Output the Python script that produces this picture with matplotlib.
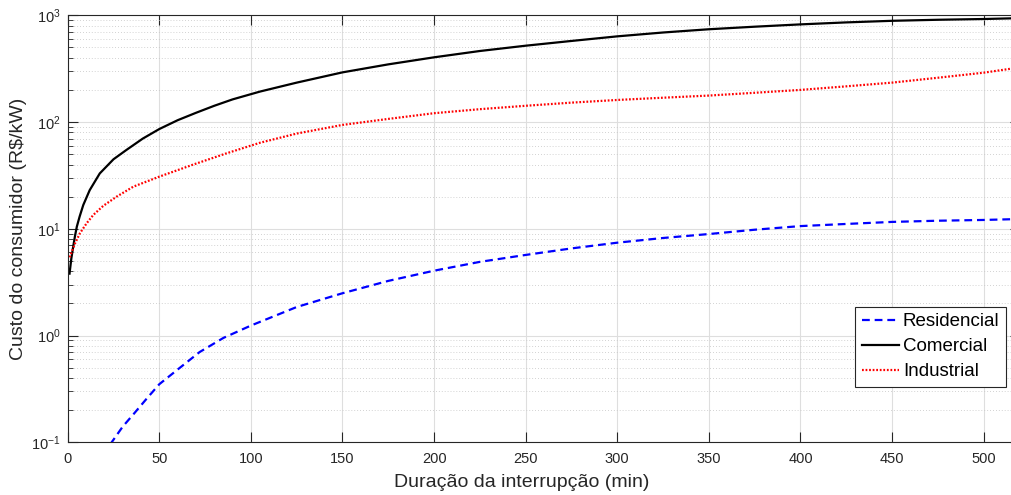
import numpy as np
import matplotlib
matplotlib.use('Agg')
import matplotlib.pyplot as plt
from matplotlib.ticker import LogLocator, LogFormatterMathtext, MultipleLocator, NullFormatter

plt.rcParams['font.family'] = ['Liberation Sans', 'DejaVu Sans']
plt.rcParams['mathtext.default'] = 'regular'

# dados (duração em min, custo em R$/kW)
x_com = [1, 2, 3, 4, 5, 6.5, 8.5, 12, 17.5, 25, 32, 41, 50, 60, 70, 80, 90, 105, 125, 150,
         175, 200, 225, 250, 275, 300, 325, 350, 375, 400, 425, 450, 475, 500, 516]
y_com = [3.8, 5.3, 6.8, 8.6, 10.5, 13, 16.7, 23, 33, 44.8, 54.7, 70, 86, 104, 122, 142, 163, 193, 234, 292,
         347, 404, 463, 519, 575, 635, 690, 740, 782, 822, 858, 888, 908, 923, 937]

x_ind = [1, 1.6, 4, 6.7, 10.4, 14, 19.4, 26.7, 35.8, 50, 68.6, 86.8, 105, 125, 150,
         175, 200, 225, 250, 275, 300, 325, 350, 375, 400, 425, 450, 475, 500, 516]
y_ind = [5.4, 5.7, 7.3, 9.1, 11.3, 13.5, 16.4, 20, 24.8, 30.8, 40, 51, 64, 78, 94,
         107, 121, 132, 142, 152, 161, 169, 177, 188, 200, 216, 234, 260, 290, 318]

x_res = [20, 24, 30, 36, 43, 50, 60, 72, 85, 100, 125, 150, 175, 200, 225, 250,
         275, 300, 325, 350, 375, 400, 425, 450, 475, 500, 516]
y_res = [0.075, 0.1, 0.14, 0.184, 0.255, 0.35, 0.48, 0.70, 0.95, 1.24, 1.85, 2.49, 3.25, 4.05, 4.9, 5.69,
         6.55, 7.41, 8.2, 8.93, 9.8, 10.6, 11.1, 11.6, 11.9, 12.1, 12.3]

fig = plt.figure(figsize=(10.12, 4.95), dpi=100)
ax = fig.add_axes([0.0669, 0.1065, 0.9413, 0.8626])

ax.plot(x_res, y_res, color='#0000ff', linestyle=(0, (3.5, 2.2)), linewidth=1.6, label='Residencial')
ax.plot(x_com, y_com, color='black', linestyle='-', linewidth=1.6, label='Comercial')
ax.plot(x_ind, y_ind, color='#ff0000', linestyle=(0, (0.8, 0.8)), linewidth=1.6, label='Industrial')

ax.set_yscale('log')
ax.set_xlim(0, 520)
ax.set_ylim(0.1, 1000)

ax.xaxis.set_major_locator(MultipleLocator(50))
ax.yaxis.set_major_locator(LogLocator(base=10))
ax.yaxis.set_minor_locator(LogLocator(base=10, subs=np.arange(2, 10)))
ax.yaxis.set_major_formatter(LogFormatterMathtext())
ax.yaxis.set_minor_formatter(NullFormatter())

# grade estilo MATLAB
ax.grid(True, which='major', color='#dedede', linewidth=0.8, linestyle='-')
ax.grid(True, which='minor', axis='y', color='#c4c4c4', linewidth=0.6, linestyle=(0, (1, 2.5)))
ax.set_axisbelow(True)

ax.tick_params(which='both', direction='in', top=True, right=True, colors='#262626',
               labelsize=10.5)
ax.tick_params(which='major', length=7, width=0.8)
ax.tick_params(which='minor', length=3.5, width=0.6)
ax.tick_params(axis='x', pad=7)
ax.tick_params(axis='y', pad=5)
for s in ax.spines.values():
    s.set_color('#262626')
    s.set_linewidth(0.8)

ax.set_xlabel('Duração da interrupção (min)', fontsize=14, color='#262626')
ax.set_ylabel('Custo do consumidor (R\\$/kW)', fontsize=14, color='#262626', labelpad=3)
ax.xaxis.set_label_coords(0.477, -0.0937, transform=ax.transAxes)
ax.xaxis.label.set_va('center')

leg = ax.legend(loc='upper left', bbox_to_anchor=(0.8265, 0.3176), fontsize=13.5,
                frameon=True, fancybox=False, framealpha=1, edgecolor='#262626',
                handlelength=2.0, handletextpad=0.2, borderpad=0.35, labelspacing=0.42,
                borderaxespad=0)
leg.get_frame().set_linewidth(0.8)

fig.savefig('out.png', dpi=100)
